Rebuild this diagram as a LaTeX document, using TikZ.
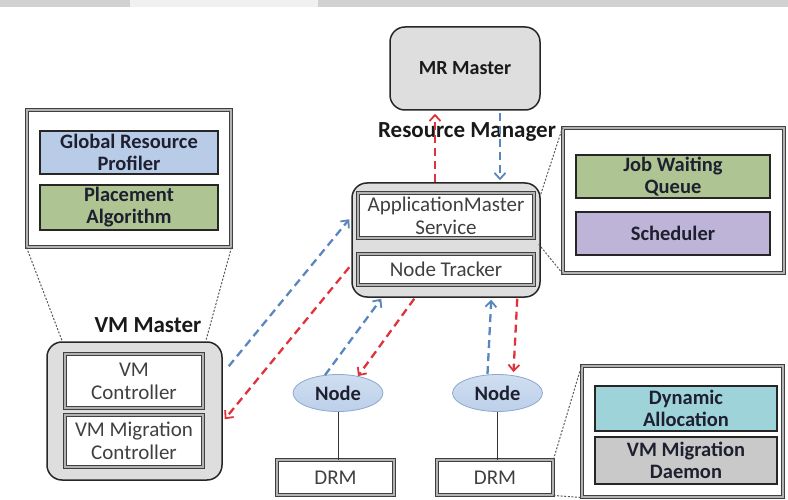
\documentclass[tikz,border=0pt]{standalone}
\usepackage{fontspec}
\setmainfont{Carlito}
\usetikzlibrary{arrows.meta,calc,shapes.geometric}
\definecolor{boxblue}{HTML}{B8CCE8}
\definecolor{boxgreen}{HTML}{AEC493}
\definecolor{boxpurple}{HTML}{BDB4D8}
\definecolor{boxteal}{HTML}{9ED3DA}
\definecolor{boxgray}{HTML}{C9C9C9}
\definecolor{contgray}{HTML}{DEDEDE}
\definecolor{arrred}{HTML}{E0323C}
\definecolor{arrblue}{HTML}{5A86BE}
\definecolor{nodefill}{HTML}{BCD0EA}
\definecolor{nodeedge}{HTML}{8EA8CE}
\definecolor{txtdark}{HTML}{1E2030}
\definecolor{txtgray}{HTML}{404040}
\begin{document}
\begin{tikzpicture}[x=1pt,y=-1pt,
  panel/.style={draw=black!75, line width=0.9pt, double=black!30, double distance=1.4pt, fill=white, minimum width=#1},
  colbox/.style={draw=black!85, line width=1.3pt, font=\fontsize{20.5}{22}\selectfont\bfseries, text=txtdark, align=center, inner sep=0pt},
  whitebox/.style={draw=black!75, line width=0.9pt, double=black!30, double distance=1.4pt, fill=white, font=\fontsize{21}{23}\selectfont, text=txtgray, align=center, inner sep=0pt},
  container/.style={draw=black!85, line width=1.5pt, fill=contgray, rounded corners=15pt},
  title/.style={font=\fontsize{23}{25}\selectfont\bfseries, text=black!90},
  nodeell/.style={ellipse, draw=nodeedge, line width=0.8pt, top color=nodefill!70!white, bottom color=nodefill, font=\fontsize{20.5}{22}\selectfont\bfseries, text=txtdark, minimum width=90pt, minimum height=37pt, inner sep=0pt},
  redarr/.style={draw=arrred, line width=2.3pt, dash pattern=on 8pt off 5pt, -{Straight Barb[length=6pt,width=11pt,line width=1.8pt]}},
  bluearr/.style={draw=arrblue, line width=2.3pt, dash pattern=on 8pt off 5pt, -{Straight Barb[length=6pt,width=11pt,line width=1.8pt]}},
  dotline/.style={draw=black!65, line width=1pt, dash pattern=on 2pt off 1.6pt},
  plain/.style={draw=black!80, line width=0.8pt}
]
\useasboundingbox (0,0) rectangle (788,500);
\fill[black!18] (0,0) rectangle (788,7);
\fill[black!6] (130,0) rectangle (318,7);

% containers
\node[container, minimum width=150pt, minimum height=83pt] (mr) at (465,68.5) {};
\node[title, font=\fontsize{20}{22}\selectfont\bfseries] (mrtext) at (mr) {MR Master};
\node[title] (rmlabel) at (467,132) {Resource Manager};
\node[container, minimum width=188pt, minimum height=114pt] (rm) at (446,240) {};
\node[whitebox, minimum width=176pt, minimum height=45pt] (ams) at (446,215.5) {ApplicationMaster\\Service};
\node[whitebox, minimum width=176pt, minimum height=31pt] (nt) at (446,269.5) {Node Tracker};

\node[title] (vmlabel) at (148,325) {VM Master};
\node[container, minimum width=175pt, minimum height=138pt] (vm) at (134.5,411) {};
\node[whitebox, minimum width=138pt, minimum height=54pt] (vmc) at (134,381) {VM\\Controller};
\node[whitebox, minimum width=138pt, minimum height=52pt] (vmmc) at (134,441) {VM Migration\\Controller};

% panels
\node[panel=204pt, minimum height=137pt] (tlp) at (129,178.5) {};
\node[colbox, fill=boxblue, minimum width=178pt, minimum height=43pt] (grp) at (129,152.5) {Global Resource\\Profiler};
\node[colbox, fill=boxgreen, minimum width=178pt, minimum height=45pt] (pa) at (129,207.5) {Placement\\Algorithm};

\node[panel=221pt, minimum height=145pt] (trp) at (673.5,200.5) {};
\node[colbox, fill=boxgreen, minimum width=194pt, minimum height=43pt] (jwq) at (673,176.5) {Job Waiting\\Queue};
\node[colbox, fill=boxpurple, minimum width=194pt, minimum height=43pt] (sch) at (673,233.5) {Scheduler};

\node[panel=201pt, minimum height=131pt] (brp) at (682.5,431.5) {};
\node[colbox, fill=boxteal, minimum width=182pt, minimum height=45pt] (dyn) at (686,408.5) {Dynamic\\Allocation};
\node[colbox, fill=boxgray, minimum width=182pt, minimum height=47pt] (vmd) at (686,460.5) {VM Migration\\Daemon};

% nodes and DRMs
\node[nodeell] (n1) at (338,393) {Node};
\node[nodeell] (n2) at (497.5,393) {Node};
\node[whitebox, minimum width=117pt, minimum height=35pt] (drm1) at (335.5,477.5) {DRM};
\node[whitebox, minimum width=116pt, minimum height=35pt] (drm2) at (495,477.5) {DRM};
\draw[plain] (n1.south) -- (n1.south |- drm1.north);
\draw[plain] (n2.south) -- (n2.south |- drm2.north);

% dotted zoom lines
\draw[dotline] (tlp.south west) -- ($(vm.north west)+(16,0)$);
\draw[dotline] (tlp.south east) -- ($(vm.north east)+(-17,0)$);
\draw[dotline] ($(rm.north east)+(0,12)$) -- (trp.north west);
\draw[dotline] ($(rm.north east)+(-2,62)$) -- (trp.south west);
\draw[dotline] (drm2.north east) -- (brp.north west);
\draw[dotline] (drm2.south east) -- (brp.south west);

% arrows
\draw[redarr] ($(rm.north)+(-11,0)$) -- ($(mr.south)+(-30,3)$);
\draw[bluearr] ($(mr.south)+(35,2)$) -- ($(rm.north)+(54,-2)$);
\draw[bluearr] ($(vm.north east)+(6,25)$) -- ($(rm.north west)+(-2,37)$);
\draw[redarr] ($(rm.north west)+(-2,85)$) -- ($(vm.north east)+(2,78)$);
\draw[bluearr] ($(n1.north)+(-13,1)$) -- ($(rm.south west)+(30,1)$);
\draw[redarr] ($(rm.south west)+(63,1)$) -- ($(n1.north)+(20,2)$);
\draw[bluearr] ($(n2.north)+(-10,0)$) -- ($(rm.south west)+(140,2)$);
\draw[redarr] ($(rm.south west)+(166,1)$) -- ($(n2.north)+(16,-2)$);
\end{tikzpicture}
\end{document}
